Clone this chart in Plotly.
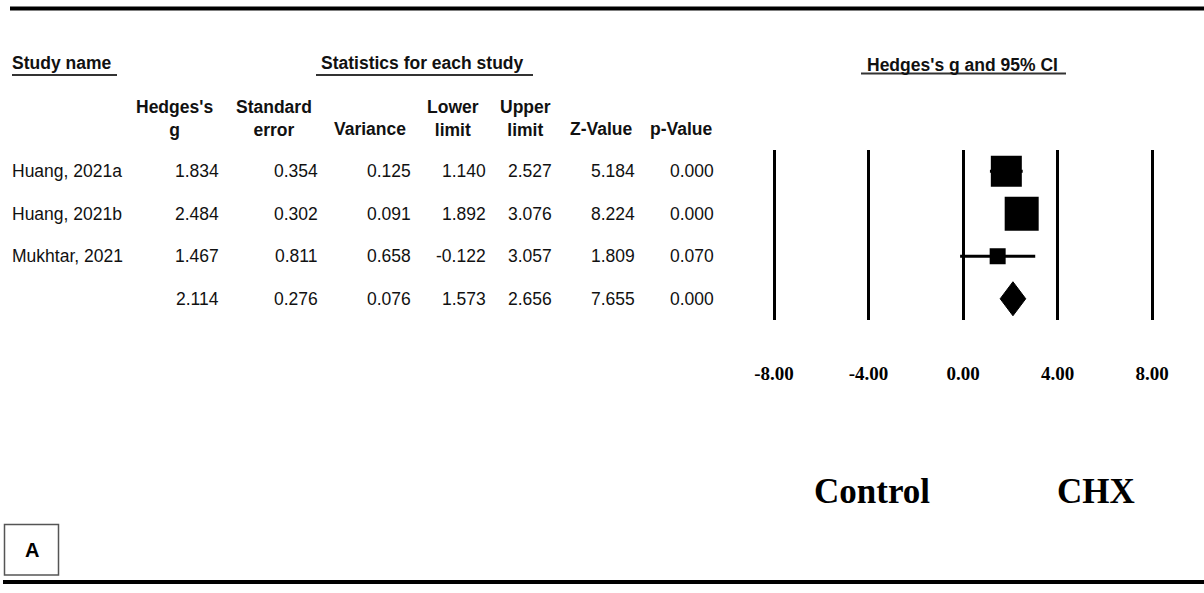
import plotly.graph_objects as go

# ---------------- data ----------------
studies = ["Huang, 2021a", "Huang, 2021b", "Mukhtar, 2021", ""]
hedges_g = [1.834, 2.484, 1.467, 2.114]
std_err = [0.354, 0.302, 0.811, 0.276]
variance = [0.125, 0.091, 0.658, 0.076]
lower = [1.140, 1.892, -0.122, 1.573]
upper = [2.527, 3.076, 3.057, 2.656]
z_value = [5.184, 8.224, 1.809, 7.655]
p_value = [0.000, 0.000, 0.070, 0.000]
tick_vals = [-8, -4, 0, 4, 8]
tick_text = ["-8.00", "-4.00", "0.00", "4.00", "8.00"]

# ---------------- layout helpers ----------------
W, H = 1204, 593
SANS = "Liberation Sans, Arial, sans-serif"
SERIF = "Liberation Serif, Times New Roman, serif"
TXT = "#111111"
FS = 17.5


def px(x):
    return x / W


def py(y):
    return 1 - y / H


n_studies = 3
rows = list(range(len(hedges_g)))
study_rows = rows[:n_studies]
sum_row = rows[n_studies]

fig = go.Figure()

# study squares with CI
fig.add_trace(go.Scatter(
    x=hedges_g[:n_studies],
    y=study_rows,
    mode="markers",
    marker=dict(symbol="square", size=[31, 34, 16], color="black",
                opacity=1, line=dict(width=0)),
    error_x=dict(type="data", symmetric=False,
                 array=[u - g for u, g in zip(upper[:n_studies], hedges_g[:n_studies])],
                 arrayminus=[g - l for g, l in zip(hedges_g[:n_studies], lower[:n_studies])],
                 color="black", thickness=3, width=0),
    cliponaxis=False,
    showlegend=False,
    hoverinfo="skip",
))

# summary diamond
dh = 0.4
fig.add_trace(go.Scatter(
    x=[lower[sum_row], hedges_g[sum_row], upper[sum_row], hedges_g[sum_row], lower[sum_row]],
    y=[sum_row, sum_row - dh, sum_row, sum_row + dh, sum_row],
    mode="lines",
    fill="toself",
    fillcolor="black",
    line=dict(color="black", width=1),
    showlegend=False,
    hoverinfo="skip",
))

annotations = []


def add_text(text, x, y, size=FS, bold=False, anchor="center", yref="paper",
             family=SANS, color=TXT):
    if bold:
        text = "<br>".join("<b>%s</b>" % t for t in text.split("<br>"))
    annotations.append(dict(
        text=text, x=x, y=y, xref="paper", yref=yref,
        xanchor=anchor, yanchor="middle", showarrow=False,
        font=dict(family=family, size=size, color=color),
        align="center", borderpad=0, borderwidth=0,
    ))


# group headers
add_text("Study name", px(12), py(63), bold=True, anchor="left")
add_text("Statistics for each study", px(422.5), py(63), bold=True)
add_text("Hedges's g and 95% CI", px(962.5), py(65), bold=True)

# column headers
add_text("Hedges's<br>g", px(174), py(118), bold=True)
add_text("Standard<br>error", px(274), py(118), bold=True)
add_text("Variance", px(370.5), py(129), bold=True)
add_text("Lower<br>limit", px(453), py(118), bold=True)
add_text("Upper<br>limit", px(525), py(118), bold=True)
add_text("Z-Value", px(601), py(129), bold=True)
add_text("p-Value", px(681.5), py(129), bold=True)

# table body
col_right = [219, 318, 411, 486, 552, 635, 714]
columns = [hedges_g, std_err, variance, lower, upper, z_value, p_value]
for r in rows:
    if studies[r]:
        add_text(studies[r], px(12), r, anchor="left", yref="y")
    for xr_, col in zip(col_right, columns):
        add_text("%.3f" % col[r], px(xr_), r, anchor="right", yref="y")

# direction labels
add_text("Control", px(871.5), py(491.5), size=35, bold=True, family=SERIF, color="black")
add_text("CHX", px(1095.5), py(491.5), size=35, bold=True, family=SERIF, color="black")

# panel label
add_text("A", px(31.5), py(550), size=20, bold=True, color="black")

shapes = [
    # top & bottom rules
    dict(type="line", xref="paper", yref="paper", x0=px(10), x1=1, y0=py(8.5), y1=py(8.5),
         line=dict(color="black", width=4)),
    dict(type="line", xref="paper", yref="paper", x0=px(3), x1=1, y0=py(582), y1=py(582),
         line=dict(color="black", width=4)),
    # header underlines
    dict(type="line", xref="paper", yref="paper", x0=px(12), x1=px(117), y0=py(75), y1=py(75),
         line=dict(color="#333333", width=2)),
    dict(type="line", xref="paper", yref="paper", x0=px(316), x1=px(533), y0=py(75), y1=py(75),
         line=dict(color="#333333", width=2)),
    dict(type="line", xref="paper", yref="paper", x0=px(861), x1=px(1066), y0=py(73.5), y1=py(73.5),
         line=dict(color="#333333", width=2)),
    # panel label box
    dict(type="rect", xref="paper", yref="paper", x0=px(4.5), x1=px(58.5), y0=py(575), y1=py(524.5),
         line=dict(color="#555555", width=1.5)),
]

unit = 378 / 16.0
x0_px = 963
xr = 9
fig.update_layout(
    width=W, height=H,
    margin=dict(l=0, r=0, t=0, b=0),
    paper_bgcolor="white", plot_bgcolor="white",
    xaxis=dict(
        domain=[px(x0_px - xr * unit), px(x0_px + xr * unit)],
        range=[-xr, xr],
        tickvals=tick_vals, ticktext=["<b>%s</b>" % t for t in tick_text],
        showgrid=True, gridcolor="black", gridwidth=3,
        zeroline=False, showline=False, ticks="",
        ticklabelstandoff=40,
        tickfont=dict(family=SERIF, size=19, color="black"),
        fixedrange=True,
    ),
    yaxis=dict(
        domain=[py(320), py(150)],
        range=[3.5, -0.5],
        showgrid=False, zeroline=False, showline=False,
        showticklabels=False, ticks="", fixedrange=True,
    ),
    annotations=annotations,
    shapes=shapes,
    showlegend=False,
)

fig.write_html(
    "out.html",
    config={"displayModeBar": False},
    post_script="document.body.style.margin='0';document.body.style.overflow='hidden';",
)
